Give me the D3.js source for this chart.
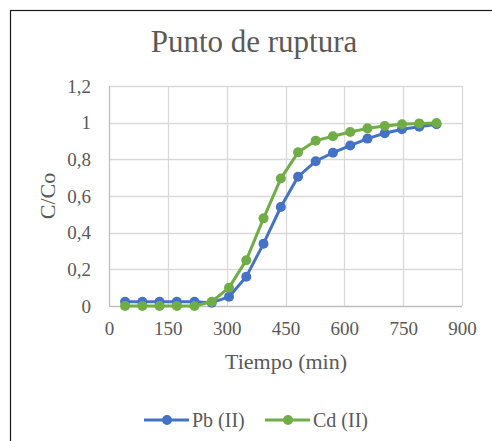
<!DOCTYPE html>
<html>
<head>
<meta charset="utf-8">
<script src="https://cdn.jsdelivr.net/npm/d3@7"></script>
<style>
    body { margin: 0; background: #fff; }
    svg { display: block; }
    text { font-family: "Liberation Serif", "Times New Roman", serif; fill: #595959; }
</style>
</head>
<body>
<div id="chart"></div>
<script>
const tiempo = [41, 85, 129, 173, 218, 262, 306, 350, 394, 438, 482, 527, 571, 615, 659, 703, 747, 791, 835];
const pb = [0.023, 0.023, 0.023, 0.023, 0.023, 0.018, 0.05, 0.16, 0.34, 0.54, 0.705, 0.79, 0.836, 0.875, 0.913, 0.942, 0.964, 0.978, 0.991];
const cd = [0.0, 0.0, 0.0, 0.0, 0.0, 0.023, 0.10, 0.25, 0.478, 0.695, 0.838, 0.902, 0.926, 0.949, 0.969, 0.982, 0.991, 0.996, 0.998];
const xTicks = [0, 150, 300, 450, 600, 750, 900];
const yTicks = [0, 0.2, 0.4, 0.6, 0.8, 1, 1.2];
const seriesNames = ['Pb (II)', 'Cd (II)'];
const seriesColors = ['#4472C4', '#70AD47'];

const width = 492;
const height = 441;
const plot = { left: 109, top: 86, right: 462, bottom: 306 };

const svg = d3.select('#chart')
    .append('svg')
    .attr('width', width)
    .attr('height', height);

// chart frame, cropped by the picture on the right and bottom
svg.append('rect')
    .attr('x', 10.5)
    .attr('y', 10.5)
    .attr('width', width + 20)
    .attr('height', height + 20)
    .attr('fill', 'none')
    .attr('stroke', '#1a1a1a')
    .attr('stroke-width', 1.2);

svg.append('text')
    .attr('x', 254)
    .attr('y', 52)
    .attr('text-anchor', 'middle')
    .style('font-size', '31px')
    .text('Punto de ruptura');

const x = d3.scaleLinear().domain([0, 900]).range([plot.left, plot.right]);
const y = d3.scaleLinear().domain([0, 1.2]).range([plot.bottom, plot.top]);

const fmt = d => d3.format('.1~f')(d).replace('.', ',');

// gridlines
svg.append('g')
    .selectAll('line.h')
    .data(yTicks)
    .enter()
    .append('line')
    .attr('x1', plot.left)
    .attr('x2', plot.right)
    .attr('y1', d => Math.round(y(d)) + 0.5)
    .attr('y2', d => Math.round(y(d)) + 0.5)
    .attr('stroke', d => d === 0 ? '#bfbfbf' : '#d9d9d9')
    .attr('stroke-width', 1.3);

svg.append('g')
    .selectAll('line.v')
    .data(xTicks)
    .enter()
    .append('line')
    .attr('x1', d => Math.round(x(d)) + 0.5)
    .attr('x2', d => Math.round(x(d)) + 0.5)
    .attr('y1', plot.top)
    .attr('y2', plot.bottom)
    .attr('stroke', d => d === 0 ? '#bfbfbf' : '#d9d9d9')
    .attr('stroke-width', 1.3);

// axes (labels only)
const xAxis = d3.axisBottom(x).tickValues(xTicks).tickSize(0).tickPadding(16).tickFormat(d => d);
svg.append('g')
    .attr('transform', `translate(0, ${plot.bottom})`)
    .call(xAxis)
    .attr('font-family', null)
    .attr('font-size', null)
    .call(g => g.select('.domain').remove())
    .selectAll('text')
    .style('font-size', '19px')
    .attr('fill', '#595959');

const yAxis = d3.axisLeft(y).tickValues(yTicks).tickSize(0).tickPadding(18).tickFormat(fmt);
svg.append('g')
    .attr('transform', `translate(${plot.left}, 0)`)
    .call(yAxis)
    .attr('font-family', null)
    .attr('font-size', null)
    .call(g => g.select('.domain').remove())
    .selectAll('text')
    .style('font-size', '19px')
    .attr('fill', '#595959');

svg.append('text')
    .attr('x', 286)
    .attr('y', 369)
    .attr('text-anchor', 'middle')
    .style('font-size', '22px')
    .text('Tiempo (min)');

svg.append('text')
    .attr('transform', 'translate(55, 196) rotate(-90)')
    .attr('text-anchor', 'middle')
    .style('font-size', '22px')
    .text('C/Co');

// series
const series = [pb, cd];
const line = d3.line()
    .x((d, i) => x(tiempo[i]))
    .y(d => y(d));

series.forEach((vals, k) => {
    const g = svg.append('g');
    g.append('path')
        .datum(vals)
        .attr('d', line)
        .attr('fill', 'none')
        .attr('stroke', seriesColors[k])
        .attr('stroke-width', 3)
        .attr('stroke-linejoin', 'round');
    g.selectAll('circle')
        .data(vals)
        .enter()
        .append('circle')
        .attr('cx', (d, i) => x(tiempo[i]))
        .attr('cy', d => y(d))
        .attr('r', 5)
        .attr('fill', seriesColors[k]);
});

// legend
const legendX = [144, 265];
const legend = svg.append('g')
    .selectAll('g')
    .data(seriesNames)
    .enter()
    .append('g')
    .attr('transform', (d, i) => `translate(${legendX[i]}, 420)`);

legend.append('line')
    .attr('x1', 0)
    .attr('x2', 45)
    .attr('stroke', (d, i) => seriesColors[i])
    .attr('stroke-width', 3);

legend.append('circle')
    .attr('cx', 23)
    .attr('r', 5)
    .attr('fill', (d, i) => seriesColors[i]);

legend.append('text')
    .attr('x', 48)
    .attr('y', 7)
    .style('font-size', '20px')
    .text(d => d);
</script>
</body>
</html>
